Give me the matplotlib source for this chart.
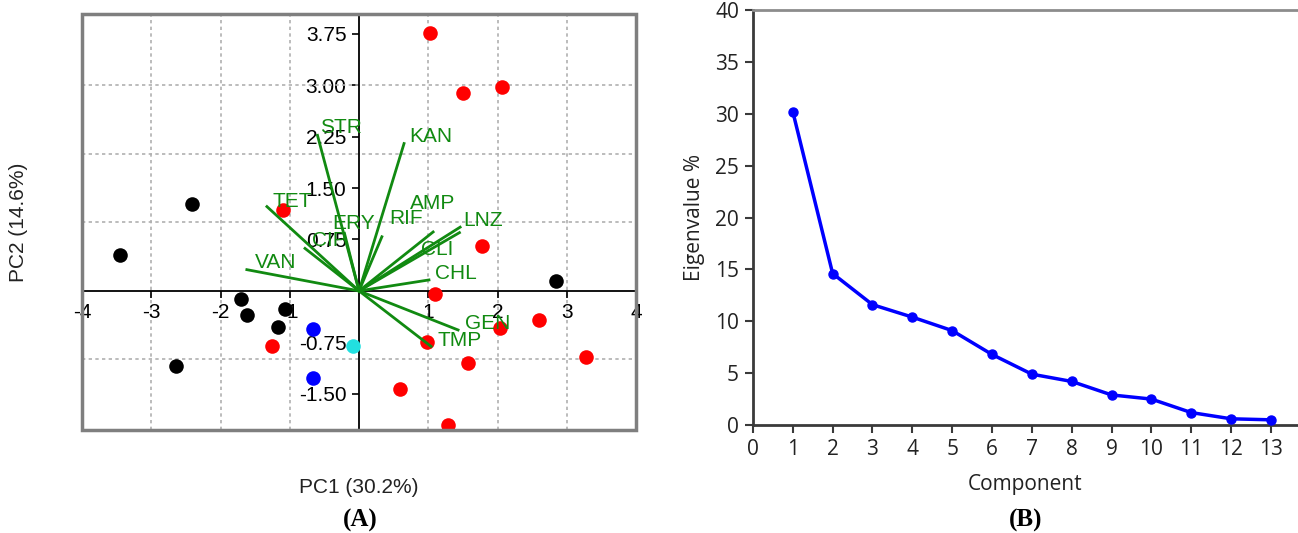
import matplotlib
matplotlib.use('Agg')
import matplotlib.pyplot as plt
from matplotlib.patches import Rectangle

plt.rcParams['axes.unicode_minus'] = False

#%% PCA scores (PC1, PC2) per group
red_x = [1.03, 1.50, 2.06, -1.10, 1.78, 1.09, 2.60, 2.04, 3.28, -1.25, 0.98, 1.57, 0.59, 1.28]
red_y = [3.76, 2.89, 2.98, 1.18, 0.66, -0.04, -0.43, -0.54, -0.96, -0.80, -0.74, -1.05, -1.43, -1.95]
black_x = [-2.41, -3.45, -1.71, -1.62, -1.07, -1.17, -2.65, 2.85]
black_y = [1.27, 0.52, -0.12, -0.35, -0.26, -0.52, -1.10, 0.15]
blue_x = [-0.67, -0.67]
blue_y = [-0.56, -1.27]
cyan_x = [-0.08]
cyan_y = [-0.80]

#%% loadings (vector tips) and where their names sit
var_names = ['STR', 'KAN', 'TET', 'VAN', 'ERY', 'CIP', 'RIF', 'AMP', 'LNZ', 'CLI', 'CHL', 'GEN', 'TMP']
load_x = [-0.60, 0.65, -1.33, -1.62, -0.21, -0.78, 0.33, 1.07, 1.46, 1.45, 1.01, 1.43, 1.04]
load_y = [2.27, 2.15, 1.23, 0.31, 0.84, 0.62, 0.79, 0.86, 0.93, 0.85, 0.16, -0.57, -0.81]
lab_x = [-0.57, 0.72, -1.25, -1.50, -0.39, -0.68, 0.44, 0.73, 1.51, 0.90, 1.09, 1.53, 1.14]
lab_y = [2.38, 2.25, 1.31, 0.41, 0.98, 0.74, 1.05, 1.28, 1.02, 0.60, 0.25, -0.48, -0.72]

#%% scree
components = list(range(1, 14))
eigen_pct = [30.2, 14.6, 11.6, 10.4, 9.1, 6.8, 4.9, 4.2, 2.9, 2.5, 1.2, 0.6, 0.5]

#%%
fig = plt.figure(figsize=(12.98, 5.33), dpi=100)

# ---- (A) biplot
ax1 = fig.add_axes([0.0632, 0.1932, 0.4268, 0.7805])
ax1.set_xlim(-4, 4)
ax1.set_ylim(-2.03, 4.04)

for s in ['top', 'right']:
    ax1.spines[s].set_visible(False)
for s in ['left', 'bottom']:
    ax1.spines[s].set_position(('data', 0))
    ax1.spines[s].set_color('black')
    ax1.spines[s].set_linewidth(1.3)
ax1.add_patch(Rectangle((0, 0), 1, 1, transform=ax1.transAxes, fill=False,
                        ec='#7f7f7f', lw=2.5, clip_on=False, zorder=6))

xt = [-4, -3, -2, -1, 1, 2, 3, 4]
ax1.set_xticks(xt)
ax1.set_xticklabels([str(v) for v in xt])
yt = [-1.5, -0.75, 0.75, 1.5, 2.25, 3.0, 3.75]
ax1.set_yticks(yt)
ax1.set_yticklabels(['%.2f' % v for v in yt])
ax1.yaxis.remove_overlapping_locs = False
ax1.set_yticks([-1, 1, 2, 3], minor=True)
ax1.tick_params(axis='both', which='major', direction='out', length=5, width=1.2,
                labelsize=15, pad=4)
ax1.tick_params(axis='y', which='minor', length=0)
for lab in ax1.get_xticklabels() + ax1.get_yticklabels():
    lab.set_fontfamily('Liberation Sans')

ax1.xaxis.grid(True, which='major', ls=(0, (2, 2)), color='#b0b0b0', lw=1.2)
ax1.yaxis.grid(True, which='minor', ls=(0, (2, 2)), color='#b0b0b0', lw=1.2)
ax1.set_axisbelow(True)

ax1.scatter(red_x, red_y, s=110, c='#ff0000', zorder=3, lw=0)
ax1.scatter(black_x, black_y, s=110, c='#000000', zorder=3, lw=0)
ax1.scatter(blue_x, blue_y, s=110, c='#0000ff', zorder=3, lw=0)
ax1.scatter(cyan_x, cyan_y, s=110, c='#22e0e0', zorder=3, lw=0)

for i in range(len(var_names)):
    ax1.plot([0, load_x[i]], [0, load_y[i]], color='#118a11', lw=2, zorder=4)
    ax1.text(lab_x[i], lab_y[i], var_names[i], color='#118a11', fontsize=15,
             family='Liberation Sans', ha='left', va='center', zorder=5)

ax1.text(0.5, -0.137, 'PC1 (30.2%)', transform=ax1.transAxes, ha='center', va='center',
         fontsize=15, family='Liberation Sans', color='#222222')
ax1.text(-0.1155, 0.5, 'PC2 (14.6%)', transform=ax1.transAxes, ha='center', va='center',
         rotation=90, fontsize=15, family='Liberation Sans', color='#222222')

# ---- (B) scree plot
ax2 = fig.add_axes([0.5801, 0.2026, 0.4199, 0.7786])
ax2.plot(components, eigen_pct, color='#0000ff', lw=2.5, marker='o', ms=6.5, zorder=3)
ax2.set_xlim(0, 13.68)
ax2.set_ylim(0, 40)
ax2.set_xticks(range(0, 14))
ax2.set_yticks(range(0, 41, 5))
ax2.spines['right'].set_visible(False)
ax2.spines['top'].set_color('#8c8c8c')
ax2.spines['top'].set_linewidth(2)
for s in ['left', 'bottom']:
    ax2.spines[s].set_color('#3a3a3a')
    ax2.spines[s].set_linewidth(2)
ax2.tick_params(direction='out', length=6, width=1.5, color='#3a3a3a',
                labelsize=15, labelcolor='#222222', pad=4)
for lab in ax2.get_xticklabels() + ax2.get_yticklabels():
    lab.set_fontfamily('Open Sans')
ax2.set_xlabel('Component', fontsize=15, family='Open Sans', color='#222222', labelpad=10)
ax2.set_ylabel('Eigenvalue %', fontsize=15, family='Open Sans', color='#222222', labelpad=7)

fig.text(360 / 1298, 1 - 520 / 533, '(A)', ha='center', va='center', fontsize=18,
         fontweight='bold', family='Liberation Serif')
fig.text(1026 / 1298, 1 - 520 / 533, '(B)', ha='center', va='center', fontsize=18,
         fontweight='bold', family='Liberation Serif')

fig.savefig('out.png', dpi=100)
